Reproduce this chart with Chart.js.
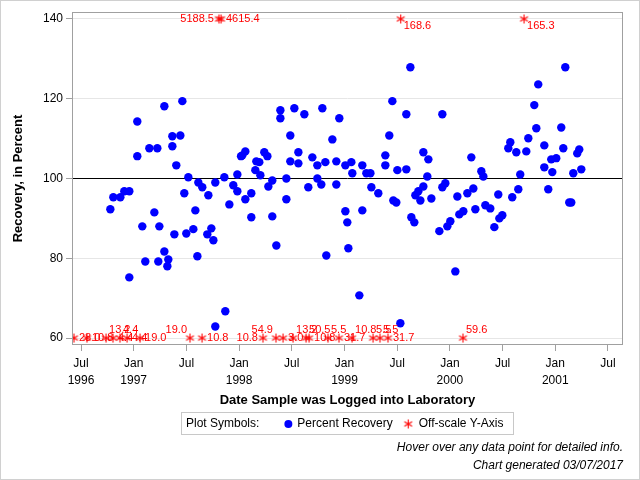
<!DOCTYPE html>
<html>
<head>
<meta charset="utf-8">
<script src="https://cdn.jsdelivr.net/npm/chart.js@4.4.1/dist/chart.umd.min.js"></script>
<style>
  body { margin: 0; background: #fff; }
</style>
</head>
<body>
<canvas id="myChart" width="640" height="480"></canvas>
<script>
// x values are months counted from Jan 1996 (6 = Jul 1996, 12 = Jan 1997 ...)
const recMonth = [
  9.34, 9.68, 10.48, 10.93, 11.5, 11.5, 12.41, 12.41, 12.98, 13.32, 13.78, 14.69, 14.35, 14.8, 14.92,
  15.49, 15.49, 15.94, 15.83, 16.4, 16.4, 16.85, 16.63, 17.31, 17.54, 17.76, 18.22, 17.99, 18.79, 19.02,
  19.36, 19.81, 19.25, 20.5, 20.38, 20.84, 21.07, 21.29, 21.29, 22.32, 22.43, 22.89, 23.34,
  23.8, 23.8, 24.22, 24.37, 24.71, 24.71, 25.39, 25.39, 25.85, 25.96, 26.3, 26.42, 26.87, 27.22, 27.33,
  27.78, 27.78, 28.24, 28.7, 28.7, 29.38, 29.38, 29.83, 29.83, 30.29, 30.75, 30.75, 31.43, 31.88, 32.34,
  32.91, 32.91, 33.36, 33.48, 33.82, 33.93, 34.62, 35.07, 35.07, 35.41, 36.1, 36.1, 36.32, 36.44, 36.78,
  36.89, 37.69, 38.03, 38.03, 38.49,
  38.95, 39.06, 39.85, 40.65, 40.65, 41.1, 41.45, 41.56, 41.9, 42.02, 42.36, 43.04, 43.04, 43.5, 43.61,
  43.95, 44.07, 44.41, 44.64, 44.98, 44.98, 45.43, 45.55, 45.89, 46.8, 47.14, 47.14, 47.48, 47.71, 48.05,
  48.62, 48.85, 49.07, 49.53, 49.99, 50.44, 50.67, 50.9, 51.58, 51.81, 52.04, 52.6, 53.06, 53.51, 53.63, 53.97,
  55.1, 55.79, 56.01, 54.65, 54.88, 55.56, 56.7, 56.93, 57.61, 57.84, 58.06, 58.75, 58.75, 59.2, 59.54,
  59.66, 60.11, 60.68, 60.91, 61.14, 61.59, 61.82, 62.05, 62.5, 62.73, 62.96
];
const recPct = [
  92.3, 95.3, 95.3, 96.8, 96.8, 75.2, 114.3, 105.6, 88.0, 79.2, 107.6, 107.6, 91.5, 79.2, 88.0,
  118.1, 81.7, 79.7, 78.0, 110.6, 108.1, 103.3, 86.0, 110.8, 119.4, 96.3, 100.3, 86.2, 87.3, 92.0,
  99.0, 97.8, 80.5, 95.8, 86.0, 87.5, 84.5, 99.0, 62.9, 100.3, 66.7, 93.5, 98.3,
  101.0, 96.8, 105.6, 105.8, 106.8, 94.8, 96.3, 90.3, 102.1, 104.3, 104.1, 100.8, 106.6, 105.6, 98.0,
  99.5, 90.5, 83.2, 117.1, 115.1, 100.0, 94.8, 110.8, 104.3, 117.6, 106.6, 103.8, 116.1, 97.8, 105.3,
  103.3, 100.0, 98.5, 117.6, 104.1, 80.7, 109.8, 104.3, 98.5, 115.1, 103.3, 91.8, 89.0, 82.5, 104.1,
  101.3, 70.7, 103.3, 92.0, 101.3,
  101.3, 97.8, 96.3, 105.8, 103.3, 110.8, 119.4, 94.5, 94.0, 102.1, 63.7, 116.1, 102.3, 127.9, 90.3,
  89.0, 95.8, 96.8, 94.5, 98.0, 106.6, 100.5, 104.8, 95.0, 86.8, 116.1, 97.8, 98.8, 88.0, 89.3,
  76.7, 95.5, 91.0, 91.8, 96.3, 105.3, 97.5, 92.3, 101.8, 100.5, 93.3, 92.5, 87.8, 96.0, 90.0, 90.8,
  95.3, 97.3, 101.0, 107.6, 109.1, 106.6, 106.8, 110.1, 118.4, 112.6, 123.6, 108.3, 102.8, 97.3, 104.8,
  101.6, 105.1, 112.8, 107.6, 127.9, 94.0, 94.0, 101.3, 106.3, 107.3, 102.3
];

// off-scale results: plotted on the axis edge, real value written next to them
const lowMonth = [5.2, 6.68, 8.85, 9.64, 10.44, 11.24, 12.72, 18.41, 19.78, 26.72, 28.2,
  29.0, 30.14, 31.62, 31.96, 34.12, 35.37, 36.86, 39.25, 40.04, 40.95, 49.49];
const lowValue = [28.0, 10.8, 13.2, 4.4, 4.4, 4.4, 19.0, 19.0, 10.8, 10.8, 54.9,
  3.0, 13.2, 50.5, 10.8, 5.5, 31.7, 10.8, 5.5, 5.5, 31.7, 59.6];
const highMonth = [21.94, 21.71, 42.4, 56.44];
const highValue = [4615.4, 5188.5, 168.6, 165.3];

const refValue = 100;
const xTickValues = [6, 12, 18, 24, 30, 36, 42, 48, 54, 60, 66];
const xTickLabels = [['Jul', '1996'], ['Jan', '1997'], 'Jul', ['Jan', '1998'], 'Jul', ['Jan', '1999'],
  'Jul', ['Jan', '2000'], 'Jul', ['Jan', '2001'], 'Jul'];
const yTickValues = [60, 80, 100, 120, 140];

const xMin = 4.975, xMax = 67.71;
const yMin = 58.25, yMax = 141.75;

const FONT = '"Liberation Sans", Arial, sans-serif';

// six-spoke asterisk used for off-scale points
function makeAsterisk(color) {
  const c = document.createElement('canvas');
  c.width = 11; c.height = 11;
  const g = c.getContext('2d');
  g.strokeStyle = color;
  g.lineWidth = 1.1;
  g.beginPath();
  for (let k = 0; k < 3; k++) {
    const a = Math.PI / 2 + k * Math.PI / 3;
    g.moveTo(5.5 + 4.5 * Math.cos(a), 5.5 + 4.5 * Math.sin(a));
    g.lineTo(5.5 - 4.5 * Math.cos(a), 5.5 - 4.5 * Math.sin(a));
  }
  g.stroke();
  return c;
}
const asterisk = makeAsterisk('#ff0000');

const frame = {
  id: 'frame',
  afterDraw(chart) {
    const {ctx, chartArea: a} = chart;
    ctx.save();
    ctx.strokeStyle = '#a0a0a0';
    ctx.lineWidth = 1;
    ctx.strokeRect(Math.round(a.left) + 0.5, Math.round(a.top) + 0.5,
      Math.round(a.right - a.left) - 1, Math.round(a.bottom - a.top) - 1);
    ctx.strokeStyle = '#d0d0d0';
    ctx.strokeRect(0.5, 0.5, chart.width - 1, chart.height - 1);
    ctx.restore();
  }
};

const offLabels = {
  id: 'offLabels',
  afterDatasetsDraw(chart, args, opts) {
    const ctx = chart.ctx;
    ctx.save();
    ctx.font = '11px ' + FONT;
    ctx.fillStyle = '#ff0000';
    ctx.textBaseline = 'middle';
    opts.sets.forEach(s => {
      const meta = chart.getDatasetMeta(s.dataset);
      meta.data.forEach((pt, i) => {
        const txt = s.values[i].toFixed(1);
        const a = s.anchors[i];
        let x = pt.x, y = pt.y;
        if (a === 'r') { ctx.textAlign = 'left'; x += 5; }
        else if (a === 'l') { ctx.textAlign = 'right'; x -= 5; }
        else if (a === 'tr') { ctx.textAlign = 'left'; x += 3; y -= 8; }
        else if (a === 'tl') { ctx.textAlign = 'right'; x -= 3; y -= 8; }
        else if (a === 'br') { ctx.textAlign = 'left'; x += 3; y += 7; }
        ctx.fillText(txt, x, y);
      });
    });
    ctx.restore();
  }
};

const symbolLegend = {
  id: 'symbolLegend',
  afterDraw(chart) {
    const ctx = chart.ctx;
    const recDs = chart.data.datasets[0];
    const offDs = chart.data.datasets[1];
    ctx.save();
    ctx.font = '12px ' + FONT;
    const t0 = 'Plot Symbols:';
    const w0 = ctx.measureText(t0).width;
    const w1 = ctx.measureText(recDs.label).width;
    const w2 = ctx.measureText(offDs.label).width;
    const total = 5 + w0 + 25 + 8 + 5 + w1 + 10 + 11 + 5 + w2 + 10;
    const cx = (chart.chartArea.left + chart.chartArea.right) / 2;
    const left = Math.round(cx - total / 2);
    const top = Math.round(chart.scales.x.bottom + 4);
    const h = 22;
    ctx.strokeStyle = '#c8c8c8';
    ctx.lineWidth = 1;
    ctx.strokeRect(left + 0.5, top + 0.5, Math.round(total), h);
    const my = top + h / 2 + 1;
    ctx.fillStyle = '#000';
    ctx.textBaseline = 'middle';
    ctx.textAlign = 'left';
    let x = left + 5;
    ctx.fillText(t0, x, my);
    x += w0 + 25;
    ctx.fillStyle = recDs.backgroundColor;
    ctx.beginPath();
    ctx.arc(x + 4, my, 4, 0, Math.PI * 2);
    ctx.fill();
    x += 8 + 5;
    ctx.fillStyle = '#000';
    ctx.fillText(recDs.label, x, my);
    x += w1 + 10;
    ctx.drawImage(asterisk, x, my - 5.5);
    x += 11 + 5;
    ctx.fillText(offDs.label, x, my);
    ctx.restore();
  }
};

const ctx = document.getElementById('myChart').getContext('2d');
const myChart = new Chart(ctx, {
  type: 'scatter',
  data: {
    datasets: [{
      label: 'Percent Recovery',
      data: recMonth.map((m, i) => ({x: m, y: recPct[i]})),
      backgroundColor: '#0000ff',
      borderWidth: 0,
      pointRadius: 4.2,
      order: 1
    },
    {
      label: 'Off-scale Y-Axis',
      data: lowMonth.map(m => ({x: m, y: yTickValues[0]}))
        .concat(highMonth.map(m => ({x: m, y: yTickValues[yTickValues.length - 1]}))),
      pointStyle: asterisk,
      order: 2
    },
    {
      type: 'line',
      label: 'ref',
      data: [{x: xMin, y: refValue}, {x: xMax, y: refValue}],
      borderColor: '#000',
      borderWidth: 1,
      pointRadius: 0,
      order: 3
    }]
  },
  options: {
    responsive: false,
    animation: false,
    devicePixelRatio: 1,
    layout: {padding: {top: 12, right: 17, left: 0, bottom: 0}},
    scales: {
      x: {
        type: 'linear',
        min: xMin,
        max: xMax,
        afterBuildTicks: axis => { axis.ticks = xTickValues.map(v => ({value: v})); },
        afterFit: axis => { axis.height = 63; },
        ticks: {
          padding: 4,
          color: '#000',
          font: {family: FONT, size: 12, lineHeight: 1.4},
          maxRotation: 0,
          autoSkip: false,
          callback: (v, i) => xTickLabels[i]
        },
        grid: {drawOnChartArea: false, tickLength: 6, tickColor: '#a0a0a0'},
        border: {display: false},
        title: {
          display: true,
          text: 'Date Sample was Logged into Laboratory',
          color: '#000',
          font: {family: FONT, size: 13, weight: 'bold'},
          padding: {top: 0, bottom: 0}
        }
      },
      y: {
        min: yMin,
        max: yMax,
        afterBuildTicks: axis => { axis.ticks = yTickValues.map(v => ({value: v})); },
        afterFit: axis => { axis.width = 72; },
        ticks: {
          padding: 3,
          color: '#000',
          font: {family: FONT, size: 12},
          callback: v => String(v)
        },
        grid: {color: '#e6e6e6', tickLength: 6, tickColor: '#a0a0a0'},
        border: {display: false},
        title: {
          display: true,
          text: 'Recovery, in Percent',
          color: '#000',
          font: {family: FONT, size: 13, weight: 'bold'},
          padding: {top: 11, bottom: 0}
        }
      }
    },
    plugins: {
      legend: {display: false},
      tooltip: {enabled: true},
      title: {
        display: true,
        position: 'bottom',
        align: 'end',
        text: ['Hover over any data point for detailed info.', 'Chart generated 03/07/2017'],
        color: '#000',
        font: {family: FONT, size: 12, style: 'italic', weight: 'normal', lineHeight: 1.5},
        padding: {top: 31, bottom: 5}
      },
      offLabels: {
        sets: [{
          dataset: 1,
          values: lowValue.concat(highValue),
          anchors: ['r', 'r', 'tr', 'r', 'tr', 'r', 'r', 'tl', 'r', 'l', 'tl',
            'r', 'tr', 'tr', 'r', 'tr', 'r', 'tr', 'tr', 'tr', 'r', 'tr',
            'r', 'l', 'br', 'br']
        }]
      }
    }
  },
  plugins: [frame, offLabels, symbolLegend]
});
</script>
</body>
</html>
